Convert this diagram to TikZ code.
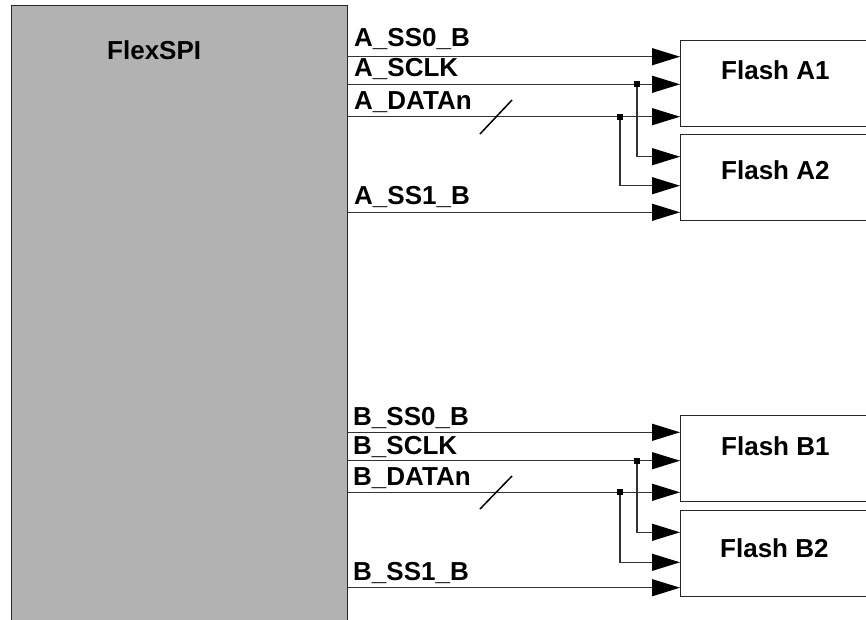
\documentclass[tikz,border=0pt]{standalone}
\usepackage{fontspec}
\setmainfont{Liberation Sans}
\usetikzlibrary{arrows.meta}
\tikzset{
  lbl/.style={anchor=base west, inner sep=0pt, font=\fontsize{26}{30}\selectfont\bfseries},
  sig/.style={line width=1.2pt, color=black!80, -{Triangle[length=28pt,width=17pt,color=black]}},
  blk/.style={draw=black!85, line width=1.4pt, rectangle, anchor=north west, inner sep=0pt},
  dot/.style={fill=black, minimum size=6pt, inner sep=0pt, rectangle}
}
\begin{document}
\begin{tikzpicture}[x=1pt,y=-1pt]
\useasboundingbox (0,0) rectangle (866,620);
% blocks
\node[blk, fill=black!30, minimum width=336pt, minimum height=630pt] (flex) at (11,5) {};
\node[blk, fill=white, minimum width=220pt, minimum height=86pt] (fa1) at (680,40) {};
\node[blk, fill=white, minimum width=220pt, minimum height=86pt] (fa2) at (680,134) {};
\node[blk, fill=white, minimum width=220pt, minimum height=86pt] (fb1) at (680,415) {};
\node[blk, fill=white, minimum width=220pt, minimum height=86pt] (fb2) at (680,510) {};
% block texts
\node[lbl] (tflex) at (107,60) {FlexSPI};
\node[lbl] (tfa1) at (721,80) {Flash A1};
\node[lbl] (tfa2) at (721,180) {Flash A2};
\node[lbl] (tfb1) at (721,455) {Flash B1};
\node[lbl] (tfb2) at (720,557) {Flash B2};
% signal labels
\node[lbl] (lA0) at (354,47) {A\_SS0\_B};
\node[lbl] (lAc) at (354,77) {A\_SCLK};
\node[lbl] (lAd) at (354,110) {A\_DATAn};
\node[lbl] (lA1) at (354,205) {A\_SS1\_B};
\node[lbl] (lB0) at (353,425) {B\_SS0\_B};
\node[lbl] (lBc) at (353,454) {B\_SCLK};
\node[lbl] (lBd) at (353,485) {B\_DATAn};
\node[lbl] (lB1) at (353,580) {B\_SS1\_B};
% signal start points on FlexSPI edge
\coordinate (sA0) at (347,56.7);
\coordinate (sAc) at (347,84.3);
\coordinate (sAd) at (347,116.7);
\coordinate (sA1) at (347,212.3);
\coordinate (sB0) at (347,432.3);
\coordinate (sBc) at (347,460.7);
\coordinate (sBd) at (347,492.3);
\coordinate (sB1) at (347,587.7);
% branch points
\coordinate (jAc) at (637,84.3);
\coordinate (jAd) at (620,116.7);
\coordinate (jBc) at (637,460.7);
\coordinate (jBd) at (620,492.3);
\coordinate (eAc) at (680,156.7);
\coordinate (eAd) at (680,185.7);
\coordinate (eBc) at (680,532.3);
\coordinate (eBd) at (680,562.3);
% channel A
\draw[sig] (sA0) -- (sA0 -| fa1.west);
\draw[sig] (sAc) -- (sAc -| fa1.west);
\draw[sig] (sAd) -- (sAd -| fa1.west);
\draw[sig] (sA1) -- (sA1 -| fa2.west);
\draw[sig] (jAc) |- (eAc);
\draw[sig] (jAd) |- (eAd);
\node[dot] (dAc) at (jAc) {};
\node[dot] (dAd) at (jAd) {};
\draw[line width=1.5pt] (480,134) -- (512,100);
% channel B
\draw[sig] (sB0) -- (sB0 -| fb1.west);
\draw[sig] (sBc) -- (sBc -| fb1.west);
\draw[sig] (sBd) -- (sBd -| fb1.west);
\draw[sig] (sB1) -- (sB1 -| fb2.west);
\draw[sig] (jBc) |- (eBc);
\draw[sig] (jBd) |- (eBd);
\node[dot] (dBc) at (jBc) {};
\node[dot] (dBd) at (jBd) {};
\draw[line width=1.5pt] (480,509) -- (512,476);
\end{tikzpicture}
\end{document}
